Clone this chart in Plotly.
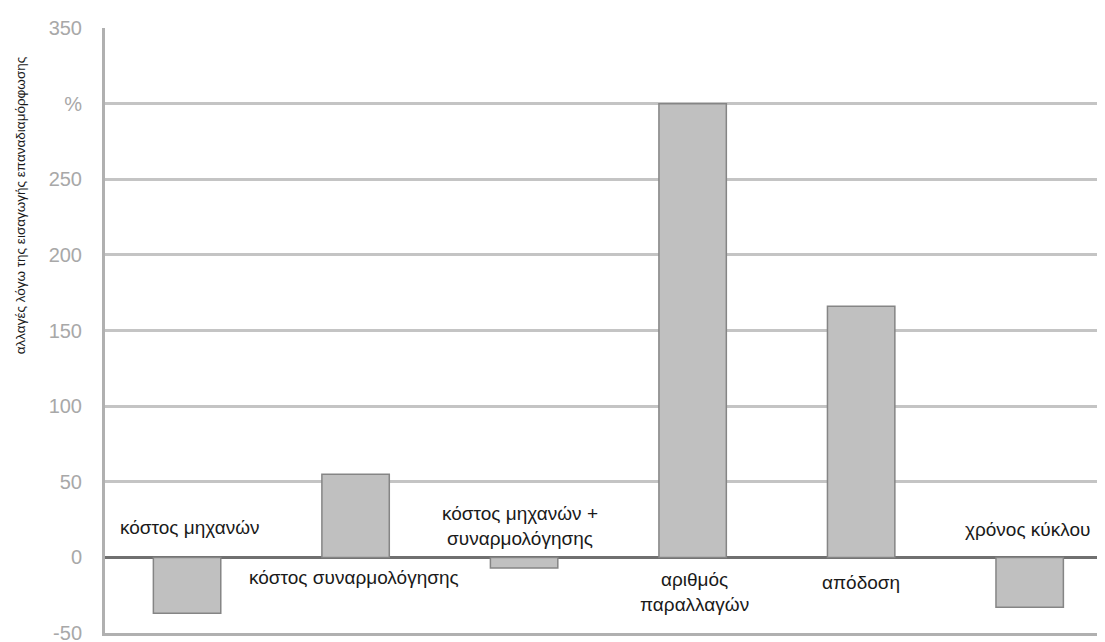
import plotly.graph_objects as go

categories = ["κόστος μηχανών", "κόστος συναρμολόγησης", "κόστος μηχανών + συναρμολόγησης",
              "αριθμός παραλλαγών", "απόδοση", "χρόνος κύκλου"]
values = [-37, 55, -7, 300, 166, -33]
tick_vals = [-50, 0, 50, 100, 150, 200, 250, 300, 350]
tick_text = ["-50", "0", "50", "100", "150", "200", "250", "%", "350"]
label_texts = ["κόστος μηχανών", "κόστος συναρμολόγησης", "κόστος μηχανών +<br>συναρμολόγησης",
               "αριθμός<br>παραλλαγών", "απόδοση", "χρόνος κύκλου"]
label_x = [0.02, 0.99, 1.976, 3.01, 4.0, 4.985]
label_y = [20, -13, 20.5, -23, -16.5, 18.5]

x_idx = list(range(len(categories)))

fig = go.Figure()
fig.add_trace(go.Bar(
    x=x_idx, y=values, width=0.40,
    marker=dict(color="#c0c0c0", line=dict(color="#858585", width=1.5)),
    hovertext=categories, showlegend=False,
))

for t, xv, yv in zip(label_texts, label_x, label_y):
    fig.add_annotation(x=xv, y=yv, text=t, showarrow=False, xref="x", yref="y",
                       xanchor="center", yanchor="middle",
                       font=dict(family="Liberation Sans, Arial", size=19, color="#1a1a1a"),
                       align="center")

fig.add_annotation(x=-0.085, y=0.707, xref="paper", yref="paper",
                   xanchor="center", yanchor="middle",
                   text="αλλαγές λόγω της εισαγωγής επαναδιαμόρφωσης", textangle=-90,
                   showarrow=False, font=dict(family="Liberation Sans, Arial", size=13.5, color="#1a1a1a"))

fig.update_layout(
    width=1097, height=642,
    margin=dict(l=97, r=0, t=20, b=17),
    plot_bgcolor="white", paper_bgcolor="white",
    bargap=0.6,
    xaxis=dict(range=[-0.487, 5.447], showticklabels=False, showgrid=False, zeroline=False,
               showline=True, linecolor="#b0b0b0", linewidth=3, mirror=False, automargin=False),
    yaxis=dict(range=[-50, 350], tickvals=tick_vals, ticktext=tick_text, automargin=False,
               ticklabeloverflow="allow",
               showgrid=True, gridcolor="#c4c4c4", gridwidth=2.5,
               zeroline=True, zerolinecolor="#707070", zerolinewidth=2.5,
               showline=True, linecolor="#b0b0b0", linewidth=3,
               ticks="outside", ticklen=16, tickcolor="rgba(0,0,0,0)",
               tickfont=dict(family="Liberation Sans, Arial", size=20, color="#a8a8a8")),
)

fig.write_html("out.html")
